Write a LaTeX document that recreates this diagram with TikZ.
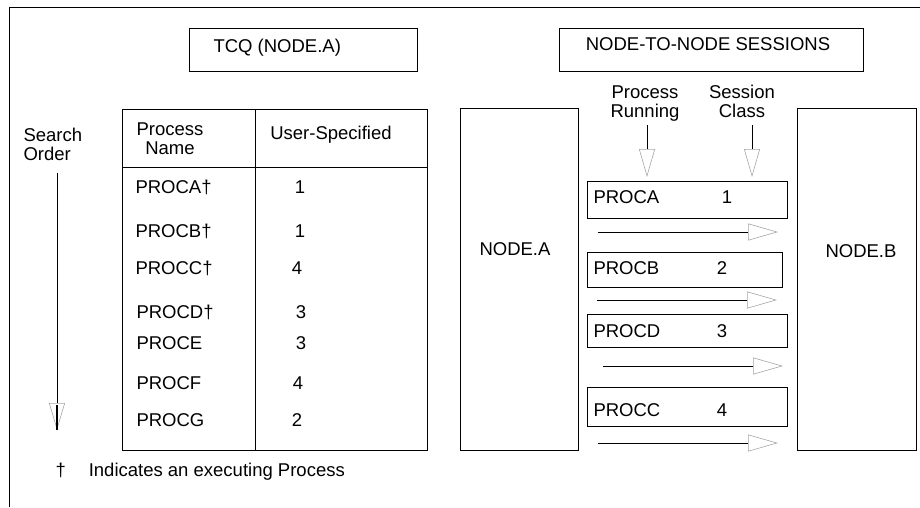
\documentclass[tikz,border=0pt]{standalone}
\usepackage{fontspec}
\setmainfont{Liberation Sans}
\usetikzlibrary{arrows.meta,positioning}

\begin{document}
\begin{tikzpicture}[x=1pt,y=-1pt,line width=1pt,
      font=\fontsize{18.5}{19}\selectfont,
      box/.style={draw,rectangle,inner sep=0pt},
      left text/.style={anchor=base west,inner sep=0pt},
      mid text/.style={anchor=base,inner sep=0pt,align=center},
      flow/.style={-{Triangle[open,length=30pt,width=17pt,line width=0.6pt,gray!70]}},
      down flow/.style={-{Triangle[open,length=28pt,width=16pt,line width=0.6pt,gray!70]}}]

      \useasboundingbox (0,0) rectangle (920,507);
      \draw (9,507) -- (9,7) -- (920,7);

      \node[box,minimum width=228pt,minimum height=43pt] (tcq) at (303,49.5) {};
      \node[left text] (tcq t) at (213,52.6) {TCQ (NODE.A)};
      \node[box,minimum width=304pt,minimum height=43pt] (sess) at (711,49.5) {};
      \node[mid text] (sess t) at (708,50) {NODE-TO-NODE SESSIONS};

      \node[left text,align=left] (search) at (23,160.6) {Search\\Order};
      \coordinate (so top) at (57,173);
      \coordinate (so tip) at (57,430);
      \coordinate (so mid) at (57,405);
      \draw[down flow,-{Triangle[open,length=27pt,width=16pt,line width=0.6pt,gray!70]}] (so top) -- (so tip);
      \draw[line width=2pt] (so mid) -- (so tip);

      \draw (122,109) rectangle (427,450);
      \draw (122,167) -- (427,167);
      \draw (255,109) -- (255,450);
      \node[mid text] (pname) at (170,154.6) {Process\\Name};
      \node[mid text] (user) at (331,139.6) {User-Specified};

      \node[left text] (p1) at (135,193.6) {PROCA†};
      \node[left text] (p2) at (135,237.6) {PROCB†};
      \node[left text] (p3) at (135,274.6) {PROCC†};
      \node[left text] (p4) at (136,318.6) {PROCD†};
      \node[left text] (p5) at (136,349.6) {PROCE};
      \node[left text] (p6) at (136,389.6) {PROCF};
      \node[left text] (p7) at (136,426.6) {PROCG};
      \node[mid text] (c1) at (300,193.6) {1};
      \node[mid text] (c2) at (300,237.6) {1};
      \node[mid text] (c3) at (297,274.6) {4};
      \node[mid text] (c4) at (301,318.6) {3};
      \node[mid text] (c5) at (301,349.6) {3};
      \node[mid text] (c6) at (298,389.6) {4};
      \node[mid text] (c7) at (297,426.6) {2};

      \node[left text] (dag) at (55,476.6) {†};
      \node[left text,right=22pt of dag.base east,anchor=base west] (note) {Indicates an executing Process};

      \node[box,minimum width=118pt,minimum height=342pt] (A) at (519,279) {};
      \node[mid text] (A t) at (515,255.6) {NODE.A};
      \node[box,minimum width=119pt,minimum height=342pt] (B) at (856.5,279) {};
      \node[mid text] (B t) at (861,257.6) {NODE.B};

      \node[mid text] (run) at (645,117.6) {Process\\Running};
      \node[mid text] (cls) at (742,117.6) {Session\\Class};
      \coordinate (run top) at (647,125);
      \coordinate (run tip) at (647,177);
      \coordinate (cls top) at (752,125);
      \coordinate (cls tip) at (752,177);
      \path[down flow] (run top) edge (run tip)
                       (cls top) edge (cls tip);

      \node[box,minimum width=200pt,minimum height=37pt] (sa) at (687,199.5) {};
      \node[box,minimum width=195pt,minimum height=35pt] (sb) at (684.5,269.5) {};
      \node[box,minimum width=200pt,minimum height=33pt] (sd) at (687,330.5) {};
      \node[box,minimum width=200pt,minimum height=39pt] (sc) at (687,406.5) {};
      \node[left text] (sa t) at (593,203.6) {PROCA};
      \node[left text] (sb t) at (593,274.6) {PROCB};
      \node[left text] (sd t) at (593,337.6) {PROCD};
      \node[left text] (sc t) at (593,416.6) {PROCC};
      \node[mid text] (sa n) at (727,203.6) {1};
      \node[mid text] (sb n) at (722,274.6) {2};
      \node[mid text] (sd n) at (722,337.6) {3};
      \node[mid text] (sc n) at (722,416.6) {4};

      \coordinate (f1 a) at (598,232);
      \coordinate (f1 b) at (778,232);
      \coordinate (f2 a) at (597,300);
      \coordinate (f2 b) at (777,300);
      \coordinate (f3 a) at (603,366);
      \coordinate (f3 b) at (783,366);
      \coordinate (f4 a) at (598,443);
      \coordinate (f4 b) at (778,443);
      \path[flow] (f1 a) edge (f1 b)
                  (f2 a) edge (f2 b)
                  (f3 a) edge (f3 b)
                  (f4 a) edge (f4 b);
    \end{tikzpicture}
\end{document}
